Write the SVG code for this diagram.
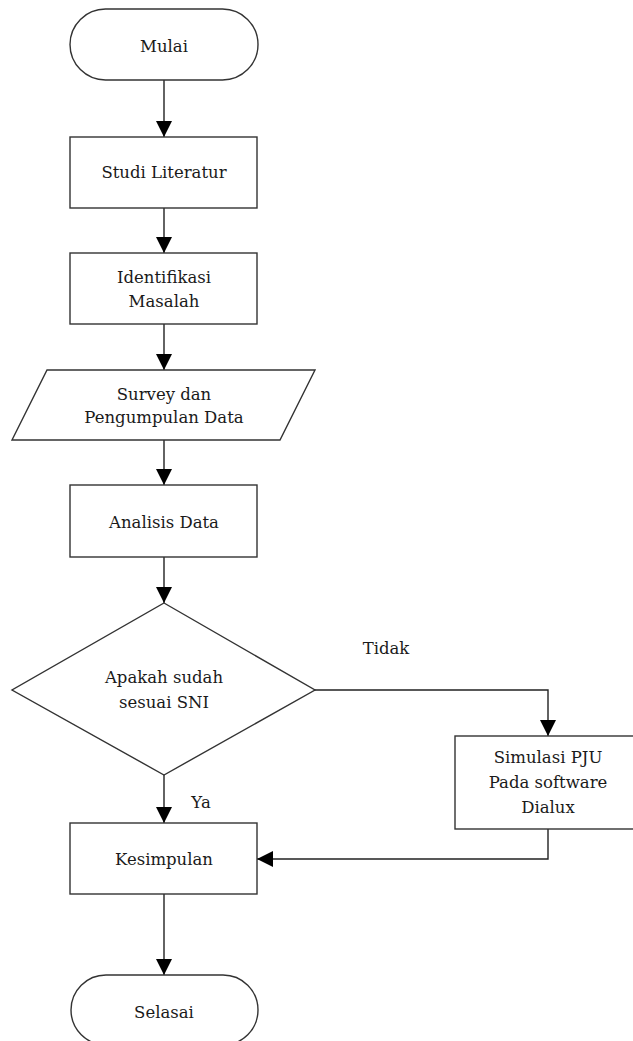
<svg xmlns="http://www.w3.org/2000/svg" width="633" height="1041" viewBox="0 0 633 1041">
<defs>
<marker id="arr" markerUnits="userSpaceOnUse" markerWidth="16" markerHeight="16" refX="16" refY="8" orient="auto">
<path d="M0,0 L16,8 L0,16 z" fill="#000"/>
</marker>
<style>
.shape{fill:#fff;stroke:#333;stroke-width:1.4}
.conn{fill:none;stroke:#222;stroke-width:1.4}
.t{font-family:"DejaVu Serif","Liberation Serif",serif;font-size:16.5px;fill:#1a1a1a;text-anchor:middle}
</style>
</defs>
<rect width="633" height="1041" fill="#fff"/>
<g id="connectors">
<line class="conn" x1="164" y1="80" x2="164" y2="137" marker-end="url(#arr)"/>
<line class="conn" x1="164" y1="208" x2="164" y2="253" marker-end="url(#arr)"/>
<line class="conn" x1="164" y1="324" x2="164" y2="370" marker-end="url(#arr)"/>
<line class="conn" x1="164" y1="440" x2="164" y2="485" marker-end="url(#arr)"/>
<line class="conn" x1="164" y1="557" x2="164" y2="603" marker-end="url(#arr)"/>
<line class="conn" x1="164" y1="775" x2="164" y2="823" marker-end="url(#arr)"/>
<polyline class="conn" points="315,690 548,690 548,736" marker-end="url(#arr)"/>
<polyline class="conn" points="548,829 548,859 257,859" marker-end="url(#arr)"/>
<line class="conn" x1="164" y1="894" x2="164" y2="975" marker-end="url(#arr)"/>
<text class="t" x="386" y="654">Tidak</text>
<text class="t" x="201" y="808">Ya</text>
</g>
<g id="mulai">
<rect class="shape" x="70" y="9" width="188" height="71" rx="35.5" ry="35.5"/>
<text class="t" x="164" y="52">Mulai</text>
</g>
<g id="studi">
<rect class="shape" x="70" y="137" width="187" height="71"/>
<text class="t" x="164" y="178">Studi Literatur</text>
</g>
<g id="identifikasi">
<rect class="shape" x="70" y="253" width="187" height="71"/>
<text class="t" x="164" y="283">Identifikasi</text>
<text class="t" x="164" y="307">Masalah</text>
</g>
<g id="survey">
<polygon class="shape" points="47,370 315,370 280,440 12,440"/>
<text class="t" x="164" y="400">Survey dan</text>
<text class="t" x="164" y="423">Pengumpulan Data</text>
</g>
<g id="analisis">
<rect class="shape" x="70" y="485" width="187" height="72"/>
<text class="t" x="164" y="528">Analisis Data</text>
</g>
<g id="keputusan">
<polygon class="shape" points="164,603 315,690 164,775 12,690"/>
<text class="t" x="164" y="683">Apakah sudah</text>
<text class="t" x="164" y="708">sesuai SNI</text>
</g>
<g id="simulasi">
<rect class="shape" x="455" y="736" width="186" height="93"/>
<text class="t" x="548" y="763">Simulasi PJU</text>
<text class="t" x="548" y="788">Pada software</text>
<text class="t" x="548" y="813">Dialux</text>
</g>
<g id="kesimpulan">
<rect class="shape" x="70" y="823" width="187" height="71"/>
<text class="t" x="164" y="865">Kesimpulan</text>
</g>
<g id="selesai">
<rect class="shape" x="71" y="975" width="187" height="70" rx="35" ry="35"/>
<text class="t" x="164" y="1018">Selasai</text>
</g>
</svg>
